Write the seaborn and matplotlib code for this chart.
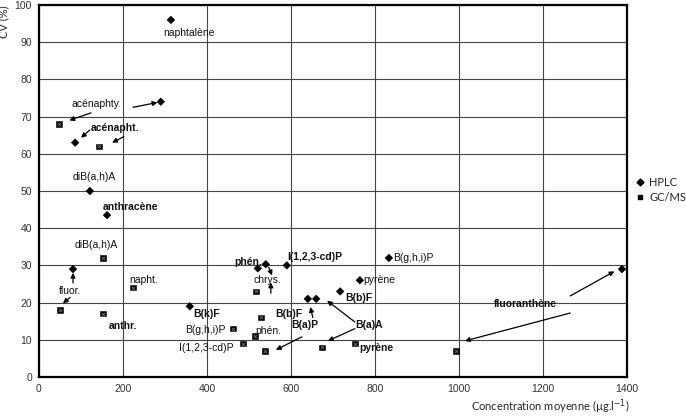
import matplotlib
matplotlib.use("Agg")
import matplotlib.pyplot as plt
import seaborn as sns
import pandas as pd
from matplotlib.lines import Line2D

# ---------------- data ----------------
hplc_conc = [314, 290, 86, 121, 162, 81, 359, 521, 540, 590, 640, 660, 717, 764, 833, 1388]
hplc_cv = [96, 74, 63, 50, 43.5, 29, 19, 29.2, 30.3, 30, 21, 21, 23, 26, 32, 29]
gcms_conc = [48, 143, 152, 50, 224, 152, 462, 486, 514, 538, 517, 529, 674, 752, 993]
gcms_cv = [68, 62, 32, 18, 24, 17, 13, 9, 11, 7, 23, 16, 8, 9, 7]
methods = ["HPLC", "GC/MS"]

x_ticks = [0, 200, 400, 600, 800, 1000, 1200, 1400]
y_ticks = [0, 10, 20, 30, 40, 50, 60, 70, 80, 90, 100]

# annotation labels: text, (x, y) of text, weight, ha, arrow targets [(from_xy, to_xy)]
labels = [
    ("naphtalène", (357, 92.5), "normal", "center", []),
    ("acénaphty.", (136, 73.4), "normal", "center", [((224, 72.5), (282, 73.8)), ((124, 71), (72, 69))]),
    ("acénapht.", (181, 67), "semibold", "center", [((121, 66.4), (100, 64.3)), ((202, 64.6), (174, 63))]),
    ("diB(a,h)A", (131, 53.8), "normal", "center", []),
    ("anthracène", (219, 45.7), "semibold", "center", []),
    ("diB(a,h)A", (136, 35.5), "normal", "center", []),
    ("fluor.", (74, 23), "normal", "center", [((81, 25.3), (81, 28)), ((74, 21.4), (57, 19.8))]),
    ("napht.", (248, 26), "normal", "center", []),
    ("anthr.", (200, 13.7), "semibold", "center", []),
    ("B(k)F", (367, 17), "bold", "left", []),
    ("B(g,h,i)P", (395, 12.6), "normal", "center", []),
    ("I(1,2,3-cd)P", (398, 7.8), "normal", "center", []),
    ("phén.", (498, 31), "semibold", "center", [((547, 29.5), (555, 27.3))]),
    ("chrys.", (543, 26), "normal", "center", [((552, 22.5), (552, 25.4))]),
    ("I(1,2,3-cd)P", (590, 32.3), "bold", "left", []),
    ("B(b)F", (562, 17), "bold", "left", []),
    ("phén.", (547, 12.4), "normal", "center", []),
    ("B(a)P", (633, 14), "semibold", "center", [((626, 10.8), (564, 7.3)), ((652, 16), (646, 18.8))]),
    ("B(a)A", (786, 14), "semibold", "center", [((752, 14.8), (686, 20.5)), ((752, 13), (688, 9.7))]),
    ("B(b)F", (728, 21.3), "bold", "left", []),
    ("pyrène", (762, 7.8), "bold", "left", []),
    ("pyrène", (772, 26), "normal", "left", []),
    ("B(g,h,i)P", (843, 32), "normal", "left", []),
    ("fluoranthène", (1157, 19.6), "bold", "center", [((1265, 17.2), (1014, 9.7)), ((1265, 21.8), (1370, 28.4))]),
]

# ---------------- table ----------------
df = pd.DataFrame({
    "conc": hplc_conc + gcms_conc,
    "cv": hplc_cv + gcms_cv,
    "method": [methods[0]] * len(hplc_conc) + [methods[1]] * len(gcms_conc),
})

sns.set_style("white")
plt.rcParams["font.family"] = ["Liberation Sans", "DejaVu Sans"]

fig = plt.figure(figsize=(6.86, 4.17), dpi=100)
ax = fig.add_axes([39 / 686, 1 - 377 / 417, (627 - 39) / 686, (377 - 5) / 417])

sns.scatterplot(
    data=df, x="conc", y="cv", hue="method", style="method",
    palette={"HPLC": "black", "GC/MS": "black"},
    markers={"HPLC": "D", "GC/MS": "s"},
    s=15, edgecolor="black", linewidth=0.4, ax=ax, legend=False, zorder=3,
)
# cross on GC/MS squares
sns.scatterplot(x=gcms_conc, y=gcms_cv, marker="x", color="#888888", s=6,
                linewidth=0.5, ax=ax, legend=False, zorder=4)

ax.set_xlim(0, 1400)
ax.set_ylim(0, 100)
ax.set_xticks(x_ticks)
ax.set_yticks(y_ticks)
ax.grid(True, color="#444444", linewidth=0.8)
ax.set_axisbelow(True)
for sp in ax.spines.values():
    sp.set_color("black")
    sp.set_linewidth(1.6)
ax.tick_params(axis="both", labelsize=7.5, length=0, pad=5, colors="#333333")
ax.set_xlabel("")
ax.set_ylabel("")

for text, xy, weight, ha, arrows in labels:
    ax.text(xy[0], xy[1], text, fontsize=7.5, fontweight=weight,
            ha=ha, va="center", color="#111111", zorder=5)
    for start, end in arrows:
        ax.annotate("", xy=end, xytext=start,
                    arrowprops=dict(arrowstyle="-|>", color="black", lw=0.9,
                                    mutation_scale=7, shrinkA=0, shrinkB=0),
                    zorder=5)

handles = [
    Line2D([], [], marker="D", color="black", linestyle="none", markersize=3.5),
    Line2D([], [], marker="s", color="black", linestyle="none", markersize=3.5),
]
fig.legend(handles, methods, loc="center left", bbox_to_anchor=(636 / 686, 1 - 190 / 417),
           frameon=False, handletextpad=0.4, handlelength=0.8, borderpad=0,
           borderaxespad=0, labelspacing=0.35,
           prop={"family": ["Lato", "DejaVu Sans"], "size": 8})

fig.text(550 / 686, 1 - 407 / 417, "Concentration moyenne (µg.l$^{-1}$)",
         fontsize=8, ha="center", va="center", family=["Lato", "DejaVu Sans"])
fig.text(4 / 686, 1 - 22 / 417, "CV (%)", fontsize=8, rotation=90,
         ha="center", va="center", family=["Lato", "DejaVu Sans"])

fig.savefig("out.png", dpi=100)
